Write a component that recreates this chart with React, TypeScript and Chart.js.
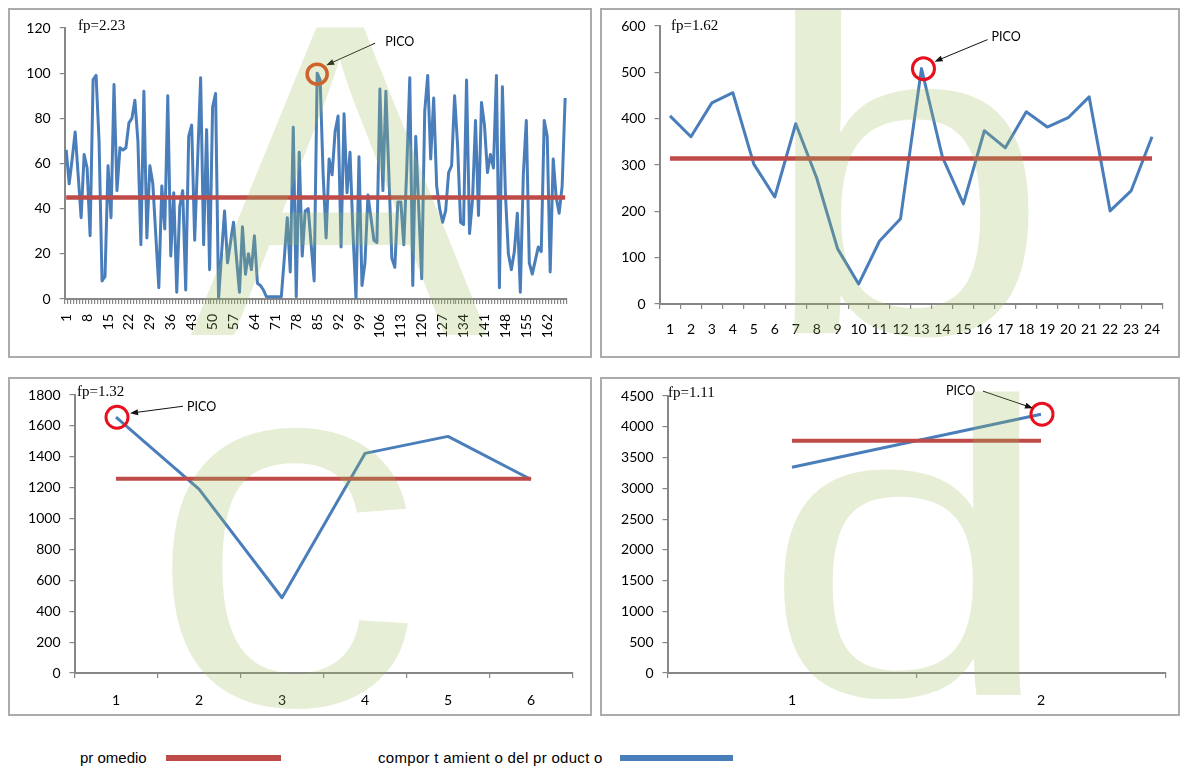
import React, { useEffect, useRef } from "react";
import { Chart, registerables } from "chart.js";

Chart.register(...registerables);

// ---------- DATA ----------
const categoriasA = Array.from({ length: 168 }, (_, i) => String(i + 1));
const etiquetasA = [1, 8, 15, 22, 29, 36, 43, 50, 57, 64, 71, 78, 85, 92, 99, 106, 113, 120, 127, 134, 141, 148, 155, 162];
const productoA = [
  66, 51, 62, 74, 55, 36, 64, 58, 28, 97, 99, 70, 8, 10, 59, 36, 95, 48, 67, 66,
  67, 78, 80, 88, 70, 24, 92, 27, 59, 51, 28, 5, 50, 31, 90, 19, 47, 3, 41, 48,
  4, 72, 77, 26, 62, 98, 24, 75, 13, 85, 91, 0, 20, 39, 16, 25, 34, 18, 3, 32,
  11, 20, 13, 28, 7, 6, 4, 1, 1, 1, 1, 1, 1, 18, 36, 12, 76, 1, 65, 19,
  39, 40, 24, 8, 100, 97, 55, 27, 62, 55, 74, 81, 23, 82, 47, 65, 29, 0, 63, 6,
  16, 46, 36, 26, 25, 93, 48, 92, 55, 18, 14, 43, 43, 24, 58, 98, 6, 72, 40, 9,
  83, 99, 62, 89, 50, 40, 34, 39, 56, 59, 90, 68, 34, 33, 97, 29, 44, 79, 37, 87,
  77, 56, 64, 58, 99, 5, 94, 47, 20, 13, 21, 38, 3, 55, 79, 16, 11, 17, 23, 21,
  79, 72, 12, 62, 45, 38, 50, 89,
];
const promedioA = 45;

const categoriasB = ["1", "2", "3", "4", "5", "6", "7", "8", "9", "10", "11", "12", "13", "14", "15", "16", "17", "18", "19", "20", "21", "22", "23", "24"];
const productoB = [406, 361, 434, 456, 302, 231, 389, 272, 119, 43, 136, 184, 508, 317, 216, 374, 337, 415, 382, 402, 447, 201, 244, 361];
const promedioB = 314;

const categoriasC = ["1", "2", "3", "4", "5", "6"];
const productoC = [1656, 1190, 487, 1422, 1532, 1253];
const promedioC = 1257;

const categoriasD = ["1", "2"];
const productoD = [3344, 4205];
const promedioD = 3775;

// ---------- STYLE ----------
const BLUE = "#4a7ebb";
const RED = "#be4b48";
const AXIS = "#878787";
const TICK_FONT = { family: "Lato", size: 14 };

type Panel = {
  left: number; top: number; width: number; height: number;
  area: { left: number; top: number; right: number; bottom: number };
  labels: string[]; values: number[]; mean: number;
  yMax: number; yStep: number;
  rotate: boolean; show: (i: number) => boolean; xPad: number;
  blueW: number; redW: number;
  peak: number;
  ann: { c: [number, number]; r: number; color: string; lw: number; from: [number, number]; to: [number, number]; t: [number, number] };
  fp: { text: string; x: number; y: number };
  letter: { ch: string; x: number; y: number; size: number; sx: number };
};

const panels: Panel[] = [
  {
    left: 8, top: 8, width: 584, height: 350,
    area: { left: 56.7, top: 20, right: 565, bottom: 291 },
    labels: categoriasA, values: productoA, mean: promedioA, yMax: 120, yStep: 20,
    rotate: true, show: (i) => etiquetasA.includes(i + 1), xPad: 10,
    blueW: 3, redW: 4.5, peak: 84,
    ann: { c: [0, 1], r: 10, color: "#e2461c", lw: 3.5, from: [58, -30], to: [9, -8], t: [68, -31] },
    fp: { text: "fp=2.23", x: 70, y: 8 },
    letter: { ch: "A", x: 182, y: 327, size: 447, sx: 1 },
  },
  {
    left: 600, top: 8, width: 580, height: 350,
    area: { left: 59.5, top: 18, right: 562.5, bottom: 296 },
    labels: categoriasB, values: productoB, mean: promedioB, yMax: 600, yStep: 100,
    rotate: false, show: () => true, xPad: 12,
    blueW: 3, redW: 4.5, peak: 12,
    ann: { c: [2, 0], r: 11, color: "#e8101e", lw: 3, from: [66, -29], to: [13, -7], t: [70, -32] },
    fp: { text: "fp=1.62", x: 71, y: 8 },
    letter: { ch: "b", x: 160, y: 325, size: 454, sx: 1.15 },
  },
  {
    left: 8, top: 377, width: 584, height: 339,
    area: { left: 66.5, top: 18, right: 564.5, bottom: 296 },
    labels: categoriasC, values: productoC, mean: promedioC, yMax: 1800, yStep: 200,
    rotate: false, show: () => true, xPad: 14,
    blueW: 3, redW: 4, peak: 0,
    ann: { c: [1, 0], r: 11, color: "#e8101e", lw: 3, from: [67, -11], to: [14, -4], t: [71, -10] },
    fp: { text: "fp=1.32", x: 69, y: 5 },
    letter: { ch: "c", x: 141, y: 327, size: 513, sx: 1.065 },
  },
  {
    left: 600, top: 377, width: 580, height: 339,
    area: { left: 67.5, top: 19, right: 565.5, bottom: 296 },
    labels: categoriasD, values: productoD, mean: promedioD, yMax: 4500, yStep: 500,
    rotate: false, show: () => true, xPad: 14,
    blueW: 3, redW: 4, peak: 1,
    ann: { c: [1, 0], r: 11, color: "#e8101e", lw: 3, from: [-58, -23], to: [-8, -6], t: [-95, -23] },
    fp: { text: "fp=1.11", x: 68, y: 6 },
    letter: { ch: "d", x: 162, y: 318, size: 419, sx: 1.256 },
  },
];

function ChartPanel({ p }: { p: Panel }) {
  const ref = useRef<HTMLCanvasElement | null>(null);
  useEffect(() => {
    if (!ref.current) return;
    const a = p.ann;
    const pico = {
      id: "pico",
      afterDatasetsDraw(chart: any) {
        const pt = chart.getDatasetMeta(1).data[p.peak];
        if (!pt) return;
        const x = pt.x, y = pt.y;
        const ctx = chart.ctx as CanvasRenderingContext2D;
        ctx.save();
        ctx.beginPath();
        ctx.arc(x + a.c[0], y + a.c[1], a.r, 0, Math.PI * 2);
        ctx.strokeStyle = a.color;
        ctx.lineWidth = a.lw;
        ctx.stroke();
        const fx = x + a.from[0], fy = y + a.from[1];
        const tx = x + a.to[0], ty = y + a.to[1];
        const ang = Math.atan2(ty - fy, tx - fx);
        ctx.beginPath();
        ctx.moveTo(fx, fy);
        ctx.lineTo(tx - 5 * Math.cos(ang), ty - 5 * Math.sin(ang));
        ctx.strokeStyle = "#111";
        ctx.lineWidth = 1;
        ctx.stroke();
        ctx.beginPath();
        ctx.moveTo(tx, ty);
        ctx.lineTo(tx - 8 * Math.cos(ang) + 3 * Math.sin(ang), ty - 8 * Math.sin(ang) - 3 * Math.cos(ang));
        ctx.lineTo(tx - 8 * Math.cos(ang) - 3 * Math.sin(ang), ty - 8 * Math.sin(ang) + 3 * Math.cos(ang));
        ctx.closePath();
        ctx.fillStyle = "#111";
        ctx.fill();
        ctx.font = "12.5px Lato";
        ctx.textBaseline = "middle";
        ctx.textAlign = "left";
        ctx.fillStyle = "#000";
        ctx.fillText("PICO", x + a.t[0], y + a.t[1]);
        ctx.restore();
      },
    };
    const chart = new Chart(ref.current, {
      type: "line",
      data: {
        labels: p.labels,
        datasets: [
          {
            label: "promedio",
            data: p.labels.map(() => p.mean),
            borderColor: RED,
            borderWidth: p.redW,
            pointRadius: 0,
            fill: false,
          },
          {
            label: "comportamiento del producto",
            data: p.values,
            borderColor: BLUE,
            borderWidth: p.blueW,
            pointRadius: 0,
            fill: false,
            borderJoinStyle: "round" as const,
          },
        ],
      },
      options: {
        animation: false,
        responsive: false,
        maintainAspectRatio: false,
        devicePixelRatio: 1,
        layout: { padding: { top: p.area.top, right: p.width - p.area.right, left: 0, bottom: 0 } },
        plugins: { legend: { display: false }, tooltip: { enabled: false } },
        elements: { line: { tension: 0 } },
        scales: {
          x: {
            type: "category",
            offset: true,
            grid: { display: true, offset: true, drawOnChartArea: false, drawTicks: true, tickLength: 5, color: AXIS, lineWidth: 1.2 },
            border: { display: true, color: AXIS, width: 2 },
            ticks: {
              autoSkip: false,
              maxRotation: p.rotate ? 90 : 0,
              minRotation: p.rotate ? 90 : 0,
              padding: p.xPad,
              color: "#000",
              font: TICK_FONT,
              callback: function (this: any, value: any, index: number) {
                return p.show(index) ? this.getLabelForValue(value) : "";
              },
            },
            afterFit: (s: any) => {
              s.height = p.height - p.area.bottom;
            },
          },
          y: {
            min: 0,
            max: p.yMax,
            grid: { display: true, drawOnChartArea: false, drawTicks: true, tickLength: 5, color: AXIS, lineWidth: 1.2 },
            border: { display: true, color: AXIS, width: 2 },
            ticks: {
              stepSize: p.yStep,
              padding: 9,
              color: "#000",
              font: TICK_FONT,
              callback: (v: any) => String(v),
            },
            afterFit: (s: any) => {
              s.width = p.area.left;
            },
          },
        },
      },
      plugins: [pico],
    } as any);
    return () => chart.destroy();
  }, [p]);

  const L = p.letter;
  return (
    <div style={{ position: "absolute", left: p.left, top: p.top, width: p.width, height: p.height, overflow: "hidden", background: "#fff" }}>
      <canvas ref={ref} width={p.width} height={p.height} style={{ position: "absolute", left: 0, top: 0, width: p.width, height: p.height }} />
      <svg width={p.width} height={p.height} style={{ position: "absolute", left: 0, top: 0, pointerEvents: "none" }}>
        <text
          transform={`translate(${L.x},${L.y}) scale(${L.sx},1)`}
          fontFamily="Liberation Sans, Arial, sans-serif"
          fontSize={L.size}
          fill="rgba(155,187,89,0.25)"
        >
          {L.ch}
        </text>
      </svg>
      <div style={{ position: "absolute", left: p.fp.x, top: p.fp.y, fontFamily: "Liberation Serif, serif", fontSize: 15, lineHeight: "18px", color: "#000", whiteSpace: "nowrap" }}>
        {p.fp.text}
      </div>
      <div style={{ position: "absolute", left: 0, top: 0, width: p.width, height: p.height, border: "2px solid #ababab", boxSizing: "border-box", pointerEvents: "none" }} />
    </div>
  );
}

export default function App() {
  return (
    <div style={{ position: "absolute", left: 0, top: 0, width: 1183, height: 766, overflow: "hidden", background: "#fff" }}>
      {panels.map((p, i) => (
        <ChartPanel key={i} p={p} />
      ))}
      <div style={{ position: "absolute", left: 80, top: 749, fontFamily: "Liberation Sans, Arial, sans-serif", fontSize: 15, lineHeight: "18px", color: "#000", whiteSpace: "pre" }}>
        pr omedio
      </div>
      <div style={{ position: "absolute", left: 166, top: 755, width: 115, height: 6, background: RED }} />
      <div style={{ position: "absolute", left: 378, top: 749, fontFamily: "Liberation Sans, Arial, sans-serif", fontSize: 15, lineHeight: "18px", letterSpacing: "0.3px", color: "#000", whiteSpace: "pre" }}>
        compor t amient o del pr oduct o
      </div>
      <div style={{ position: "absolute", left: 620, top: 755, width: 113, height: 6, background: BLUE }} />
    </div>
  );
}
